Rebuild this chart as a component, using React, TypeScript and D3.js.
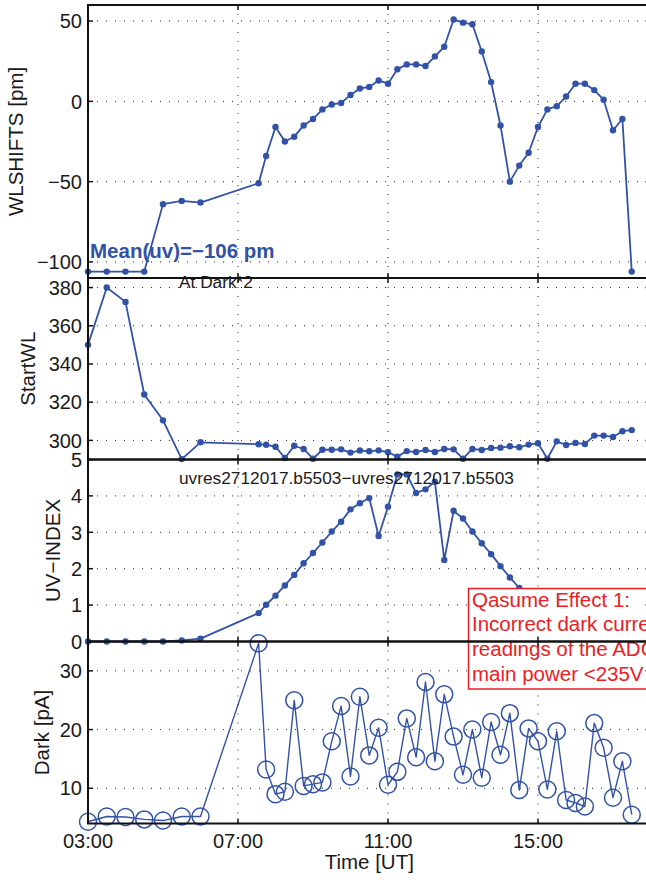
import * as d3 from 'd3'
import { useEffect, useRef } from 'react'

// time of each scan, hours UT
const hours = [3, 3.5, 4, 4.5, 5, 5.5, 6, 7.55,
    7.75, 8, 8.25, 8.5, 8.75, 9, 9.25, 9.5, 9.75, 10,
    10.25, 10.5, 10.75, 11, 11.25, 11.5, 11.75, 12, 12.25, 12.5,
    12.75, 13, 13.25, 13.5, 13.75, 14, 14.25, 14.5, 14.75, 15,
    15.25, 15.5, 15.75, 16, 16.25, 16.5, 16.75, 17, 17.25, 17.5]

const wlShifts = [-106, -106, -106, -106, -64, -62, -63, -51,
    -34, -16, -25, -22, -15, -11, -5, -2, -1, 4,
    8, 9, 13, 11, 20, 23, 23, 22, 28, 34,
    51, 49, 48, 31, 12, -15, -50, -40, -32, -16,
    -5, -3, 3, 11, 11, 7, 1, -18, -11, -106]

const startWL = [350, 380, 372.5, 324, 310.5, 290.2, 299, 298,
    297.7, 296.7, 290.8, 297.2, 295.5, 290.4, 295.1, 295.1, 295.3, 293.6,
    294.7, 294.3, 294.8, 293.8, 291.5, 294.4, 293.9, 295, 293.9, 295.5,
    295.3, 290.4, 295.5, 295, 296, 296.2, 296.9, 296.4, 297.8, 298.5,
    290.4, 299.5, 297.6, 298.7, 298.1, 302.5, 302.5, 301.8, 304.8, 305.4]

// the rest of the UV curve sits under the annotation box
const uvIndex = [0, 0, 0, 0, 0, 0.03, 0.08, 0.78,
    1.01, 1.26, 1.54, 1.83, 2.15, 2.43, 2.72, 3.02, 3.29, 3.63,
    3.8, 3.94, 2.9, 3.7, 4.59, 4.59, 4.08, 4.18, 4.39, 2.24,
    3.59, 3.38, 3.02, 2.7, 2.4, 2.07, 1.76, 1.47]

const darkCurrent = [4.3, 5.2, 5.1, 4.7, 4.5, 5.2, 5.2, 34.7,
    13.2, 9.0, 9.4, 25.0, 10.4, 10.7, 11.0, 18.0, 24.0, 12.0,
    25.6, 15.6, 20.3, 10.6, 12.8, 21.9, 15.3, 28.1, 14.6, 26.0,
    18.8, 12.3, 20.0, 11.8, 21.3, 15.7, 22.8, 9.7, 20.2, 18.0,
    9.8, 19.7, 8.0, 7.5, 6.9, 21.1, 16.9, 8.4, 14.6, 5.5]

const timeTicks = [3, 7, 11, 15]
const timeTickLabels = ['03:00', '07:00', '11:00', '15:00']
const wlTicks = [-100, -50, 0, 50]
const startTicks = [300, 320, 340, 360, 380]
const uvTicks = [0, 1, 2, 3, 4, 5]
const darkTicks = [10, 20, 30]

const noteLines = ['Qasume Effect 1:', 'Incorrect dark current', 'readings of the ADC', 'main power <235V']

const blue = '#3152a6'
const red = '#ec1c24'
const font = 'Liberation Sans, Arial, Helvetica, sans-serif'

export default function App() {
    const chart = useRef(null)

    useEffect(() => {
        const width = 646
        const height = 883
        const left = 88
        const right = 650.5

        const svg = d3.select(chart.current)
        svg.selectAll('*').remove()
        svg.attr('width', width).attr('height', height)
            .style('font-family', font)

        const x = d3.scaleLinear().domain([3, 18]).range([left, right])

        const panels = [
            { values: wlShifts, domain: [-110, 60], top: 5, bottom: 278, ticks: wlTicks, label: 'WLSHIFTS [pm]', labelX: 16, open: false },
            { values: startWL, domain: [290, 385], top: 278, bottom: 459.5, ticks: startTicks, label: 'StartWL', labelX: 28, open: false },
            { values: uvIndex, domain: [0, 5], top: 459.5, bottom: 641.5, ticks: uvTicks, label: 'UV\u2212INDEX', labelX: 53, open: false },
            { values: darkCurrent, domain: [4, 35], top: 641.5, bottom: 823.5, ticks: darkTicks, label: 'Dark [pA]', labelX: 42, open: true },
        ]

        const fmt = d3.format('d')

        panels.forEach(p => {
            const y = d3.scaleLinear().domain(p.domain).range([p.bottom, p.top])
            const g = svg.append('g')

            // dotted grid
            g.selectAll('.hgrid')
                .data(p.ticks.filter(t => y(t) > p.top + 1 && y(t) < p.bottom - 1))
                .join('line')
                .attr('x1', left).attr('x2', right)
                .attr('y1', d => y(d)).attr('y2', d => y(d))
                .attr('stroke', '#222').attr('stroke-width', 1)
                .attr('stroke-dasharray', '1 8')
            g.selectAll('.vgrid')
                .data(timeTicks.slice(1))
                .join('line')
                .attr('x1', d => x(d)).attr('x2', d => x(d))
                .attr('y1', p.top).attr('y2', p.bottom)
                .attr('stroke', '#222').attr('stroke-width', 1)
                .attr('stroke-dasharray', '1 8')

            // tick labels
            g.selectAll('.ylab')
                .data(p.ticks)
                .join('text')
                .attr('x', left - 6)
                .attr('y', d => y(d))
                .attr('dy', '0.36em')
                .attr('text-anchor', 'end')
                .attr('font-size', 20)
                .attr('fill', '#1a1a1a')
                .text(d => fmt(d))

            g.append('text')
                .attr('transform', `translate(${p.labelX},${(p.top + p.bottom) / 2}) rotate(-90)`)
                .attr('text-anchor', 'middle')
                .attr('dy', '0.36em')
                .attr('font-size', 20.5)
                .attr('fill', '#1a1a1a')
                .text(p.label)

            const pts = p.values.map((v, i) => [hours[i], v])
            const line = d3.line().x(d => x(d[0])).y(d => y(d[1]))

            g.append('path')
                .attr('d', line(pts))
                .attr('fill', 'none')
                .attr('stroke', blue)
                .attr('stroke-width', p.open ? 1.4 : 1.8)
                .attr('stroke-linejoin', 'round')

            g.selectAll('circle')
                .data(pts)
                .join('circle')
                .attr('cx', d => x(d[0]))
                .attr('cy', d => y(d[1]))
                .attr('r', p.open ? 8.5 : 3.2)
                .attr('fill', p.open ? 'none' : blue)
                .attr('stroke', blue)
                .attr('stroke-width', p.open ? 1.5 : 0)

            p.y = y
        })

        // texts inside the plots
        svg.append('text')
            .attr('x', 90).attr('y', 258)
            .attr('font-size', 20.5).attr('font-weight', 'bold')
            .attr('fill', blue)
            .text('Mean(uv)=\u2212106 pm')

        svg.append('text')
            .attr('x', 179).attr('y', 288)
            .attr('font-size', 17.3).attr('fill', '#1a1a1a')
            .text('At Dark*2')

        svg.append('text')
            .attr('x', 179).attr('y', 483.5)
            .attr('font-size', 17.3).attr('fill', '#1a1a1a')
            .text('uvres2712017.b5503\u2212uvres2712017.b5503')

        // annotation box
        const note = svg.append('g')
        note.append('rect')
            .attr('x', 468.5).attr('y', 588.5)
            .attr('width', 260).attr('height', 100.5)
            .attr('fill', 'white')
            .attr('stroke', red).attr('stroke-width', 1.5)
        note.selectAll('text')
            .data(noteLines)
            .join('text')
            .attr('x', 472)
            .attr('y', (d, i) => 606.5 + i * 24.7)
            .attr('font-size', 20.5)
            .attr('fill', red)
            .text(d => d)

        // axes frames and ticks on top
        panels.forEach(p => {
            const g = svg.append('g')
            g.append('rect')
                .attr('x', left).attr('y', p.top)
                .attr('width', right - left).attr('height', p.bottom - p.top)
                .attr('fill', 'none').attr('stroke', '#111').attr('stroke-width', 2)
            p.ticks.forEach(t => {
                const ty = p.y(t)
                g.append('line').attr('x1', left).attr('x2', left + 5).attr('y1', ty).attr('y2', ty)
                    .attr('stroke', '#111').attr('stroke-width', 1.5)
                g.append('line').attr('x1', right - 5).attr('x2', right).attr('y1', ty).attr('y2', ty)
                    .attr('stroke', '#111').attr('stroke-width', 1.5)
            })
            timeTicks.forEach(t => {
                g.append('line').attr('x1', x(t)).attr('x2', x(t)).attr('y1', p.top).attr('y2', p.top + 5)
                    .attr('stroke', '#111').attr('stroke-width', 1.5)
                g.append('line').attr('x1', x(t)).attr('x2', x(t)).attr('y1', p.bottom - 5).attr('y2', p.bottom)
                    .attr('stroke', '#111').attr('stroke-width', 1.5)
            })
        })

        const last = panels[panels.length - 1]
        svg.selectAll('.xlab')
            .data(timeTicks)
            .join('text')
            .attr('x', d => x(d))
            .attr('y', last.bottom + 24)
            .attr('text-anchor', 'middle')
            .attr('font-size', 20)
            .attr('fill', '#1a1a1a')
            .text((d, i) => timeTickLabels[i])

        svg.append('text')
            .attr('x', (left + right) / 2)
            .attr('y', 869)
            .attr('text-anchor', 'middle')
            .attr('font-size', 20.5)
            .attr('fill', '#1a1a1a')
            .text('Time [UT]')
    }, [])

    return (
        <svg ref={chart} style={{ position: 'absolute', left: 0, top: 0, background: 'white' }}></svg>
    )
}
